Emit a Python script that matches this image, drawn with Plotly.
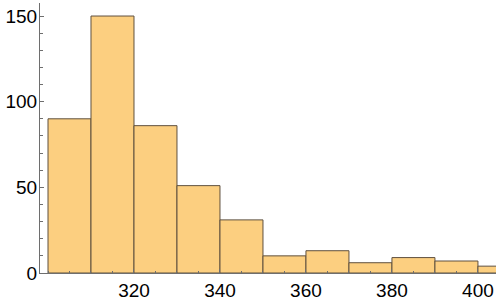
import plotly.graph_objects as go

bin_starts = [300, 310, 320, 330, 340, 350, 360, 370, 380, 390, 400]
bin_width = 10
counts = [90, 150, 86, 51, 31, 10, 13, 6, 9, 7, 4]
x_tickvals = [320, 340, 360, 380, 400]
y_tickvals = [0, 50, 100, 150]

centers = [s + bin_width / 2 for s in bin_starts]

fig = go.Figure(go.Bar(
    x=centers, y=counts, width=[bin_width] * len(counts),
    marker=dict(color="rgb(252,207,128)", line=dict(color="rgb(95,80,62)", width=1)),
))

axis_col = "rgb(110,110,110)"
fig.update_layout(
    width=496, height=302,
    margin=dict(l=40, r=0, t=3, b=29),
    plot_bgcolor="white", paper_bgcolor="white",
    showlegend=False,
    font=dict(family="Liberation Sans, Arial", size=19, color="black"),
    xaxis=dict(
        range=[298.14, 404.2], tickvals=x_tickvals, ticks="inside", ticklen=4,
        tickcolor=axis_col, showline=True, linecolor=axis_col, linewidth=1,
        showgrid=False, zeroline=False,
        minor=dict(dtick=5, tick0=300, ticks="inside", ticklen=2.5, tickcolor=axis_col),
    ),
    yaxis=dict(
        range=[0, 157.6], tickvals=y_tickvals, ticks="inside", ticklen=4,
        tickcolor=axis_col, showline=True, linecolor=axis_col, linewidth=1,
        showgrid=False, zeroline=False, ticklabelstandoff=-2,
        minor=dict(dtick=10, tick0=0, ticks="inside", ticklen=2.5, tickcolor=axis_col),
    ),
)
fig.write_html("out.html")
